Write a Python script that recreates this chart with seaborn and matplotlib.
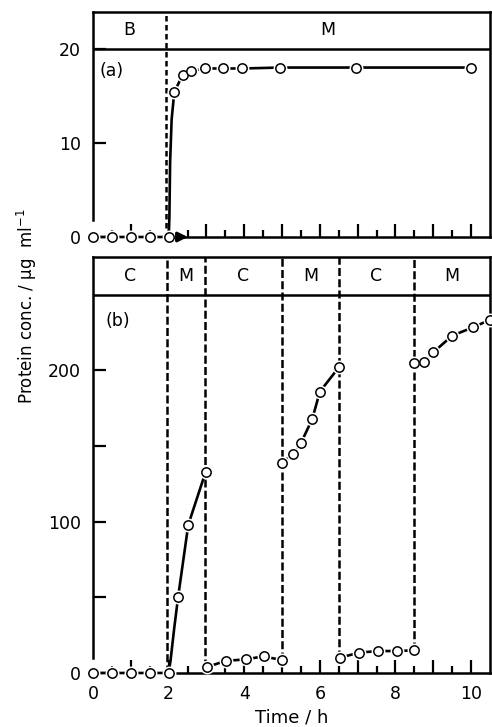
import pandas as pd
import matplotlib
matplotlib.use('Agg')
import matplotlib.pyplot as plt
import seaborn as sns

# ---- panel (a): batch (B) then switch to medium M ----
a_time = [0, 0.5, 1, 1.5, 2, 2.15, 2.37, 2.6, 2.95, 3.45, 3.95, 4.95, 6.95, 10.0]
a_conc = [0, 0, 0, 0, 0, 15.4, 17.2, 17.6, 17.9, 17.9, 17.9, 18.0, 18.0, 18.0]
a_rise_time = [2.02, 2.04, 2.08]   # steep part of the curve, no sample there
a_rise_conc = [2.0, 8.0, 12.5]
a_switch = [1.94]
a_phase = ['B', 'M']

# ---- panel (b): alternating C / M ----
b_c1_time = [0, 0.5, 1, 1.5, 2]
b_c1_conc = [0, 0, 0, 0, 0]
b_m1_rise_time = [2.05, 2.15]
b_m1_rise_conc = [8, 30]
b_m1_time = [2.25, 2.52, 2.98]
b_m1_conc = [50, 98, 133]
b_c2_time = [3.02, 3.51, 4.04, 4.51, 5.0]
b_c2_conc = [4, 8, 9, 11, 8.5]
b_m2_time = [5.0, 5.3, 5.5, 5.8, 6.0, 6.5]
b_m2_conc = [139, 145, 152, 168, 186, 202]
b_c3_time = [6.52, 7.04, 7.55, 8.03, 8.5]
b_c3_conc = [10, 13.5, 14.5, 14.5, 15]
b_m3_time = [8.48, 8.76, 9.0, 9.5, 10.05, 10.5]
b_m3_conc = [205, 205.5, 212, 223, 228.5, 233.5]
b_switch = [1.97, 2.95, 5.0, 6.5, 8.48]
b_switch_low = [0, 4, 8.5, 10, 15]   # dashed lines stop at the lower point
b_phase = ['C', 'M', 'C', 'M', 'C', 'M']

x_ticks = [0, 1, 2, 3, 4, 5, 6, 7, 8, 9, 10]
x_minor = [0.5, 1.5, 2.5, 3.5, 4.5, 5.5, 6.5, 7.5, 8.5, 9.5]
x_labels = ['0', '', '2', '', '4', '', '6', '', '8', '', '10']
a_yticks = [0, 10, 20]
a_ylabels = ['0', '10', '20']
b_yticks = [0, 50, 100, 150, 200]
b_ylabels = ['0', '', '100', '', '200']

XMAX = 10.5
A_TOP, A_BAND = 23.9, 20
B_TOP, B_BAND = 275, 250

sns.set_style('ticks')
plt.rcParams['font.family'] = ['DejaVu Sans']
plt.rcParams['mathtext.fontset'] = 'dejavusans'
for key in ['text.color', 'axes.labelcolor', 'xtick.color', 'ytick.color', 'axes.edgecolor']:
    plt.rcParams[key] = 'black'


def seg_frame(segs):
    rows = []
    for i, (xs, ys) in enumerate(segs):
        for x, y in zip(xs, ys):
            rows.append({'time': x, 'conc': y, 'seg': i})
    return pd.DataFrame(rows)


def draw(ax, lines, pts_x, pts_y):
    sns.lineplot(data=lines, x='time', y='conc', units='seg', estimator=None,
                 sort=False, color='black', linewidth=1.9, ax=ax, zorder=3,
                 clip_on=False)
    # white halo so the line stops short of each circle
    sns.scatterplot(x=pts_x, y=pts_y, s=100, color='white', linewidth=0,
                    ax=ax, zorder=4, clip_on=False)
    sns.scatterplot(x=pts_x, y=pts_y, s=45, facecolor='white', edgecolor='black',
                    linewidth=1.1, ax=ax, zorder=5, clip_on=False)


def style(ax, top, band, yticks, ylabels, left_from):
    ax.set_xlim(0, XMAX)
    ax.set_ylim(0, top)
    ax.set_xticks(x_ticks)
    ax.set_xticks(x_minor, minor=True)
    ax.set_xticklabels(x_labels)
    ax.set_yticks(yticks)
    ax.set_yticklabels(ylabels)
    ax.tick_params(which='major', direction='in', length=9.4, width=1.6,
                   labelsize=12.5, pad=8.5)
    ax.tick_params(which='minor', direction='in', length=5, width=1.6)
    ax.tick_params(axis='y', which='minor', left=False)
    ax.xaxis.get_major_ticks()[0].tick1line.set_visible(False)
    for s in ax.spines.values():
        s.set_linewidth(1.8)
    ax.spines['bottom'].set_bounds(2.2, XMAX)
    ax.spines['left'].set_bounds(left_from, top)
    ax.axhline(band, color='black', linewidth=1.8, zorder=2)
    ax.set_xlabel('')
    ax.set_ylabel('')


def band_labels(ax, bounds, labels, yc):
    for lo, hi, lab in zip(bounds[:-1], bounds[1:], labels):
        ax.text((lo + hi) / 2, yc, lab, ha='center', va='center', fontsize=12.5)


fig = plt.figure(figsize=(4.92, 7.27), dpi=100)
ax_a = fig.add_axes([0.189, 0.674, 0.807, 0.3095])
ax_b = fig.add_axes([0.189, 0.0743, 0.807, 0.5722])

# panel (a)
a_line = seg_frame([(a_time[:5] + a_rise_time + a_time[5:],
                     a_conc[:5] + a_rise_conc + a_conc[5:])])
draw(ax_a, a_line, a_time, a_conc)
ax_a.vlines(a_switch, 0, A_TOP, colors='black', linewidth=1.8,
            linestyles=(0, (2.2, 1.4)), zorder=2)
ax_a.annotate('', xy=(2.58, 0), xytext=(2.2, 0),
              arrowprops=dict(arrowstyle='-|>', color='black', lw=2.2,
                              mutation_scale=14),
              annotation_clip=False, zorder=5)
style(ax_a, A_TOP, A_BAND, a_yticks, a_ylabels, 1.8)
ax_a.tick_params(labelbottom=False)
band_labels(ax_a, [0] + a_switch + [XMAX], a_phase, (A_BAND + A_TOP) / 2)
ax_a.text(0.17, 17.6, '(a)', ha='left', va='center', fontsize=12.5)

# panel (b)
b_line = seg_frame([
    (b_c1_time + b_m1_rise_time + b_m1_time, b_c1_conc + b_m1_rise_conc + b_m1_conc),
    (b_c2_time, b_c2_conc),
    (b_m2_time, b_m2_conc),
    (b_c3_time, b_c3_conc),
    (b_m3_time, b_m3_conc),
])
b_pts_x = b_c1_time + b_m1_time + b_c2_time + b_m2_time + b_c3_time + b_m3_time
b_pts_y = b_c1_conc + b_m1_conc + b_c2_conc + b_m2_conc + b_c3_conc + b_m3_conc
draw(ax_b, b_line, b_pts_x, b_pts_y)
ax_b.vlines(b_switch, b_switch_low, B_TOP, colors='black', linewidth=1.8,
            linestyles=(0, (3.2, 1.3)), zorder=2)
style(ax_b, B_TOP, B_BAND, b_yticks, b_ylabels, 10)
band_labels(ax_b, [0] + b_switch + [XMAX], b_phase, (B_BAND + B_TOP) / 2)
ax_b.text(0.34, 233, '(b)', ha='left', va='center', fontsize=12.5)
ax_b.set_xlabel('Time / h', fontsize=13, labelpad=4)

fig.text(27 / 492, 1 - 306 / 727, 'Protein conc. / µg  ml$^{-1}$',
         rotation=90, ha='center', va='center', fontsize=12)

fig.savefig('out.png', dpi=100)
